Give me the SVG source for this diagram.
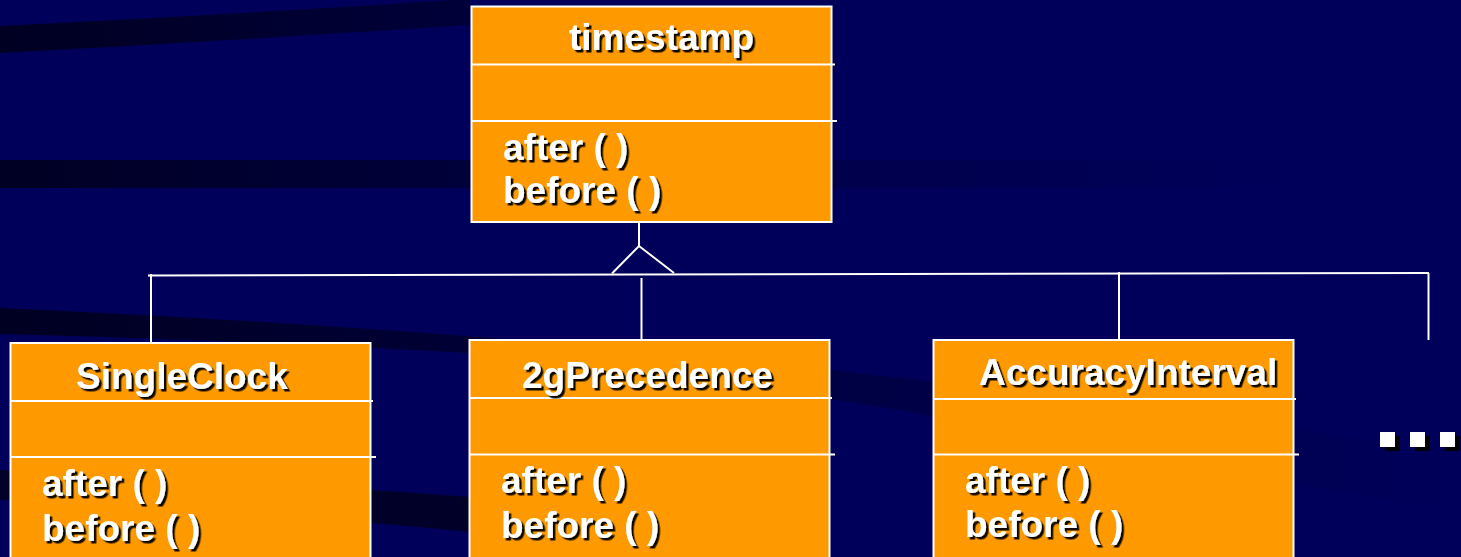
<svg xmlns="http://www.w3.org/2000/svg" width="1461" height="557" viewBox="0 0 1461 557">
<defs>
<style>
.box{fill:#FF9900;stroke:#FFFFFF;stroke-width:2}
.div{stroke:#FFFFFF;stroke-width:1.8;fill:none}
.ln{stroke:#FFFFFF;stroke-width:2;fill:none}
.t{font-family:"Liberation Sans",Arial,sans-serif;font-weight:bold;font-size:37px;fill:#FFFFFF;filter:url(#sh)}
.sq{fill:#FFFFFF}
.sqs{fill:#000000}
</style>
<filter id="sh" x="-10%" y="-20%" width="130%" height="150%">
<feDropShadow dx="2.5" dy="2.5" stdDeviation="0.4" flood-color="#000000" flood-opacity="0.95"/>
</filter>
<linearGradient id="g1" x1="0" y1="0" x2="1" y2="0">
<stop offset="0" stop-color="#000022"/>
<stop offset="1" stop-color="#00003A"/>
</linearGradient>
<linearGradient id="g2" x1="0" y1="0" x2="1" y2="0">
<stop offset="0" stop-color="#000024"/>
<stop offset="0.6" stop-color="#00004A"/>
<stop offset="1" stop-color="#00005A"/>
</linearGradient>
<linearGradient id="g3" x1="0" y1="0" x2="1" y2="0">
<stop offset="0" stop-color="#000022"/>
<stop offset="0.5" stop-color="#000040"/>
<stop offset="1" stop-color="#00005A"/>
</linearGradient>
</defs>
<rect x="0" y="0" width="1461" height="557" fill="#00005A"/>
<g id="background">
<path d="M0,26 Q240,14 470,-1 L470,25 Q240,40 0,53 Z" fill="url(#g1)"/>
<rect x="0" y="160" width="1300" height="28" fill="url(#g2)"/>
<path d="M0,308 Q480,330 830,370 Q1150,405 1461,455 L1461,512 Q1150,460 900,410 Q600,362 470,353 Q240,340 0,334 Z" fill="url(#g3)"/>
<path d="M0,470 Q250,480 470,497 L470,532 Q250,510 0,500 Z" fill="#000028"/>
</g>
<g id="connectors">
<line class="ln" x1="639" y1="222" x2="639" y2="246"/>
<polyline class="ln" points="612,273.5 639,246 674,273"/>
<line class="ln" x1="148" y1="275.5" x2="1429" y2="273"/>
<line class="ln" x1="151" y1="274" x2="151" y2="343"/>
<line class="ln" x1="641.5" y1="278" x2="641.5" y2="341"/>
<line class="ln" x1="1119" y1="272" x2="1119" y2="346"/>
<line class="ln" x1="1428.5" y1="273" x2="1428.5" y2="340"/>
</g>
<g id="timestamp">
<rect class="box" x="471.5" y="6.5" width="360" height="215.5"/>
<line class="div" x1="472" y1="64.5" x2="835" y2="64.5"/>
<line class="div" x1="472" y1="121" x2="837" y2="121"/>
<text class="t" x="569" y="50">timestamp</text>
<text class="t" x="503" y="160">after ( )</text>
<text class="t" x="503" y="203">before ( )</text>
</g>
<g id="singleclock">
<rect class="box" x="10.5" y="343" width="360" height="230"/>
<line class="div" x1="11" y1="401" x2="373" y2="401"/>
<line class="div" x1="11" y1="457" x2="376" y2="457"/>
<text class="t" x="76" y="389">SingleClock</text>
<text class="t" x="42" y="496">after ( )</text>
<text class="t" x="42" y="541">before ( )</text>
</g>
<g id="precedence2g">
<rect class="box" x="469.5" y="340" width="360" height="233"/>
<line class="div" x1="470" y1="398" x2="832" y2="398"/>
<line class="div" x1="470" y1="454.5" x2="835" y2="454.5"/>
<text class="t" x="522" y="388">2gPrecedence</text>
<text class="t" x="501" y="493">after ( )</text>
<text class="t" x="501" y="538">before ( )</text>
</g>
<g id="accuracyinterval">
<rect class="box" x="933.5" y="340" width="360" height="233"/>
<line class="div" x1="934" y1="399" x2="1296" y2="399"/>
<line class="div" x1="934" y1="454.5" x2="1299" y2="454.5"/>
<text class="t" x="979" y="385">AccuracyInterval</text>
<text class="t" x="965" y="493">after ( )</text>
<text class="t" x="965" y="537">before ( )</text>
</g>
<g id="ellipsis">
<rect class="sqs" x="1385" y="436" width="15" height="15"/>
<rect class="sqs" x="1415" y="436" width="15" height="15"/>
<rect class="sqs" x="1445" y="436" width="15" height="15"/>
<rect class="sq" x="1380" y="432" width="15" height="15"/>
<rect class="sq" x="1410" y="432" width="15" height="15"/>
<rect class="sq" x="1440" y="432" width="15" height="15"/>
</g>
</svg>
